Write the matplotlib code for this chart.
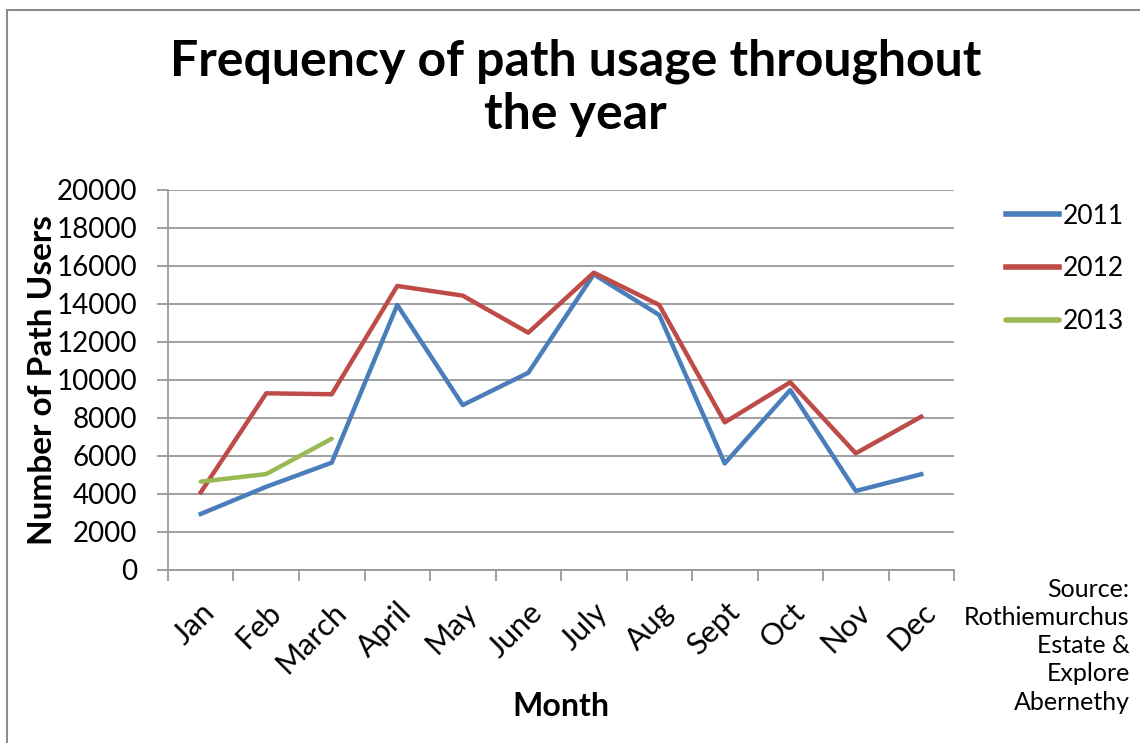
import numpy as np
import matplotlib.pyplot as plt
from matplotlib.patches import Rectangle

plt.rcParams['font.family'] = ['Lato', 'DejaVu Sans']

# Data
months = ['Jan', 'Feb', 'March', 'April', 'May', 'June', 'July', 'Aug',
          'Sept', 'Oct', 'Nov', 'Dec']
users_2011 = [2950, 4380, 5650, 13950, 8680, 10380, 15560, 13420,
              5610, 9470, 4160, 5040]
users_2012 = [4090, 9300, 9250, 14950, 14440, 12490, 15650, 13950,
              7770, 9880, 6140, 8070]
users_2013 = [4650, 5050, 6910]
y_ticks = [0, 2000, 4000, 6000, 8000, 10000, 12000, 14000, 16000, 18000, 20000]

fig = plt.figure(figsize=(11.4, 7.43), dpi=100)
ax = fig.add_axes([168 / 1140, 1 - 570 / 743, (954 - 168) / 1140, (570 - 190) / 743])

x = np.arange(len(months))
ax.plot(x, users_2011, color='#4A7EBB', lw=3.2, label='2011')
ax.plot(x, users_2012, color='#BE4B48', lw=3.2, label='2012')
ax.plot(x[:len(users_2013)], users_2013, color='#98B954', lw=3.2, label='2013',
        solid_capstyle='round')

ax.set_xlim(-0.5, len(months) - 0.5)
ax.set_ylim(0, 20000)
ax.set_yticks(y_ticks)
ax.set_yticklabels([str(v) for v in y_ticks], fontsize=20)
ax.yaxis.grid(True, color='#999999', lw=1.3)
ax.set_axisbelow(True)

ax.set_xticks(x)
ax.set_xticklabels(months, fontsize=22, rotation=45, ha='right', rotation_mode='anchor')
ax.set_xticks(np.arange(-0.5, len(months)), minor=True)
ax.tick_params(axis='x', which='major', length=0, pad=20)
ax.tick_params(axis='x', which='minor', length=8, color='#999999', width=1.3)
ax.tick_params(axis='y', length=8, color='#999999', width=1.3, pad=14)

for side in ['top', 'right']:
    ax.spines[side].set_visible(False)
for side in ['left', 'bottom']:
    ax.spines[side].set_color('#999999')
    ax.spines[side].set_linewidth(1.3)

ax.set_ylabel('Number of Path Users', fontsize=24, fontweight='bold', labelpad=0)
ax.set_xlabel('Month', fontsize=23, fontweight='bold', labelpad=10)

fig.text(0.505, 0.948, 'Frequency of path usage throughout\nthe year', ha='center', va='top',
         fontsize=36, fontweight='bold', linespacing=1.2)

leg = fig.legend(loc='upper left', bbox_to_anchor=(0.862, 0.758), frameon=False,
                 fontsize=19, handlelength=2.0, handletextpad=0.15, labelspacing=1.05)
for line in leg.get_lines():
    line.set_linewidth(4)

fig.text(0.991, 0.222, 'Source:\nRothiemurchus\nEstate &\nExplore\nAbernethy', ha='right', va='top',
         fontsize=18, linespacing=1.27)

fig.patches.append(Rectangle((7 / 1140, -0.05), 1.1, 1.05 - 10 / 743, transform=fig.transFigure,
                             fill=False, edgecolor='#8c8c8c', lw=1.5, clip_on=False))

fig.savefig('out.png', dpi=100)
